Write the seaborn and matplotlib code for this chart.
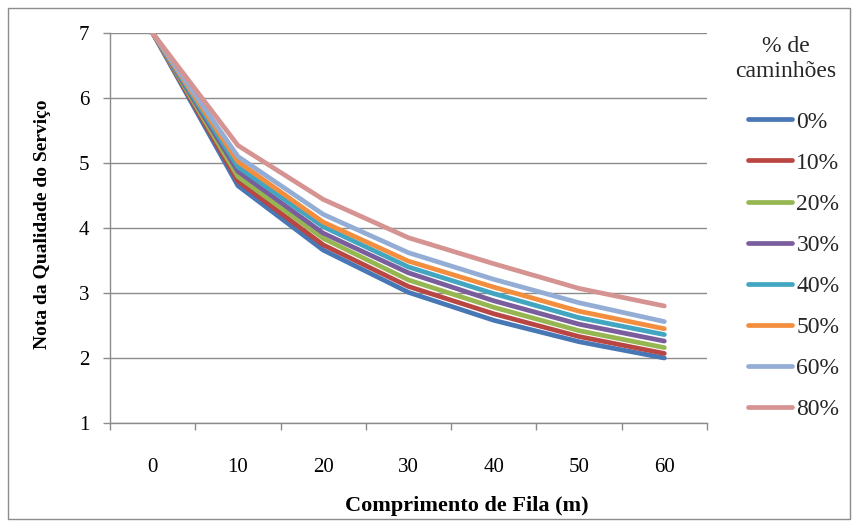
import matplotlib
matplotlib.use("Agg")
import matplotlib.pyplot as plt
from matplotlib.patches import Rectangle
from matplotlib.lines import Line2D
import seaborn as sns
import pandas as pd
import numpy as np

# ---- data ----
comprimento = [0, 10, 20, 30, 40, 50, 60]
series_labels = ["0%", "10%", "20%", "30%", "40%", "50%", "60%", "80%"]
v0 = [7.0, 4.65, 3.66, 3.01, 2.58, 2.25, 2.00]
v10 = [7.0, 4.72, 3.74, 3.10, 2.68, 2.33, 2.07]
v20 = [7.0, 4.79, 3.84, 3.20, 2.78, 2.42, 2.16]
v30 = [7.0, 4.87, 3.92, 3.31, 2.88, 2.52, 2.26]
v40 = [7.0, 4.94, 4.02, 3.40, 2.99, 2.62, 2.36]
v50 = [7.0, 5.02, 4.09, 3.49, 3.09, 2.72, 2.45]
v60 = [7.0, 5.10, 4.21, 3.62, 3.21, 2.85, 2.56]
v80 = [7.0, 5.27, 4.44, 3.85, 3.45, 3.07, 2.80]
all_values = [v0, v10, v20, v30, v40, v50, v60, v80]
y_ticks = [1, 2, 3, 4, 5, 6, 7]

colors = ["#4777B5", "#BA4643", "#96B652", "#7A5D9C",
          "#43A6C1", "#F28E3E", "#93ADD5", "#D59391"]

rows = []
for lab, vals in zip(series_labels, all_values):
    for xv, yv in zip(comprimento, vals):
        rows.append({"x": xv, "y": yv, "serie": lab})
df = pd.DataFrame(rows)

sns.set_theme(style="white")
plt.rcParams["font.family"] = ["Liberation Serif", "DejaVu Serif"]

W, H = 858, 528
fig = plt.figure(figsize=(W / 100, H / 100), dpi=100)
ax = fig.add_axes([110 / W, 1 - 423 / H, (707 - 110) / W, (423 - 33) / H])

sns.lineplot(data=df, x="x", y="y", hue="serie", hue_order=series_labels,
             palette=colors, linewidth=3.4, legend=False, ax=ax,
             solid_capstyle="round", solid_joinstyle="round")

grid_c = "#8C8C8C"
ax.set_xlim(-5, 65)
ax.set_ylim(1, 7)
ax.set_yticks(y_ticks)
ax.set_yticklabels([str(t) for t in y_ticks])
ax.set_xticks(comprimento)
ax.set_xticklabels([str(c) for c in comprimento])
ax.set_xticks(np.arange(-5, 66, 10), minor=True)
ax.yaxis.grid(True, color=grid_c, linewidth=1.0)
ax.xaxis.grid(False)
ax.set_axisbelow(True)

for s in ["top", "right"]:
    ax.spines[s].set_visible(False)
for s in ["left", "bottom"]:
    ax.spines[s].set_color(grid_c)
    ax.spines[s].set_linewidth(1.0)

ax.tick_params(axis="y", which="major", direction="out", length=5, width=1,
               color=grid_c, labelsize=15, pad=10, labelcolor="black", left=True)
ax.tick_params(axis="x", which="major", length=0, labelsize=15, pad=25,
               labelcolor="black", bottom=True)
ax.tick_params(axis="x", which="minor", direction="out", length=5, width=1,
               color=grid_c, bottom=True)

ax.set_xlabel("Comprimento de Fila (m)", fontsize=16, fontweight="bold", color="black")
ax.set_ylabel("Nota da Qualidade do Serviço", fontsize=14, fontweight="bold", color="black")
ax.xaxis.set_label_coords((467 - 110) / 597, (423 - 506) / 390)
ax.xaxis.label.set_va("center")
ax.yaxis.set_label_coords((43 - 110) / 597, (423 - 224) / 390)
ax.yaxis.label.set_va("center")
ax.yaxis.label.set_ha("center")

# legend title
fig.text(786 / W, 1 - 59 / H, "% de\ncaminhões", ha="center", va="center",
         fontsize=17, linespacing=1.2)

handles = [Line2D([0], [0], color=c, lw=3.4, solid_capstyle="round") for c in colors]
fig.legend(handles, series_labels, loc="upper left",
           bbox_to_anchor=(748 / W, 1 - 111 / H), frameon=False,
           fontsize=17, handlelength=1.85, handletextpad=0.2,
           labelspacing=0.83, borderpad=0, borderaxespad=0)

# outer chart border
fig.patches.append(Rectangle((8 / W, 1 - 519 / H), (850 - 8) / W, (519 - 8) / H,
                             transform=fig.transFigure, fill=False,
                             edgecolor="#8C8C8C", linewidth=1.0))

fig.savefig("out.png", dpi=100)
